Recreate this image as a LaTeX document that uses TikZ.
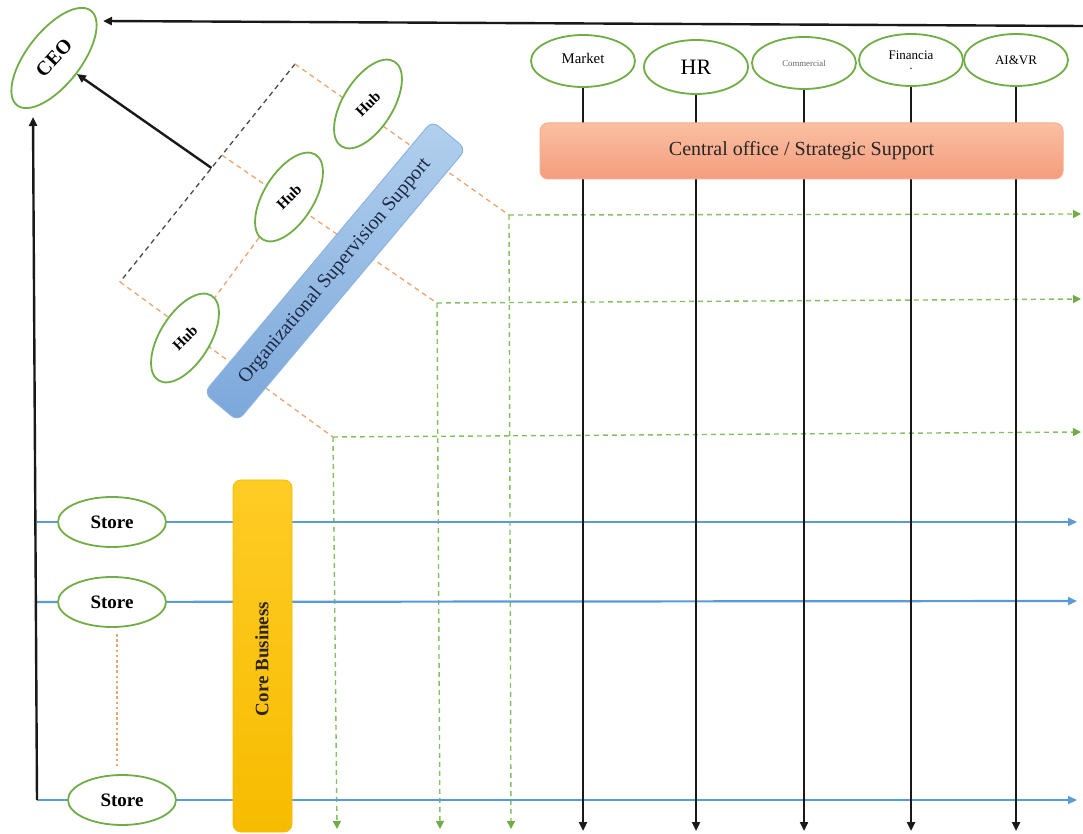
\documentclass[tikz,border=0pt]{standalone}
\usepackage{fontspec}
\setmainfont{Liberation Serif}
\usetikzlibrary{shapes.geometric,arrows.meta,calc}

\definecolor{nodegreen}{HTML}{70AD47}
\definecolor{lineblue}{HTML}{5B9BD5}
\definecolor{dashgreen}{HTML}{86BE62}
\definecolor{dashorange}{HTML}{E9A572}
\definecolor{dashgray}{HTML}{4A4A4A}
\definecolor{ossA}{HTML}{B2D0EE}
\definecolor{ossB}{HTML}{7BA7DA}
\definecolor{ossEdge}{HTML}{8DB3DE}
\definecolor{ossText}{HTML}{1E2A45}
\definecolor{coA}{HTML}{FBBFA2}
\definecolor{coB}{HTML}{F49D7D}
\definecolor{coEdge}{HTML}{F5AE90}
\definecolor{cbA}{HTML}{FFCC26}
\definecolor{cbB}{HTML}{F7BC00}
\definecolor{cbText}{HTML}{2E2510}

\pgfdeclarelayer{bg}
\pgfsetlayers{bg,main}

\begin{document}
\begin{tikzpicture}[x=0.5pt,y=-0.5pt,
  oval/.style={ellipse, draw=nodegreen, line width=0.9pt, fill=white, inner sep=0pt},
  funcoval/.style={oval, minimum width=52pt, minimum height=26pt},
  huboval/.style={oval, minimum width=50pt, minimum height=25pt, rotate=58},
  storeoval/.style={oval, minimum width=54pt, minimum height=25pt,
    font=\bfseries\fontsize{9.5}{10}\selectfont},
  hubtext/.style={rotate=45, font=\bfseries\fontsize{7.5}{8}\selectfont},
  blk/.style={line width=1.2pt, draw=black!90, -{Triangle[length=4.5pt,width=4pt]}},
  blueline/.style={line width=1.1pt, draw=lineblue, -{Triangle[length=4.5pt,width=4pt]}},
  gdash/.style={line width=0.7pt, draw=dashgreen, dash pattern=on 2.5pt off 2pt,
    -{Triangle[length=4pt,width=4pt,color=nodegreen]}},
  odash/.style={line width=0.65pt, draw=dashorange, dash pattern=on 2.5pt off 2pt},
  bdash/.style={line width=0.65pt, draw=dashgray, dash pattern=on 2.5pt off 2pt},
  sdot/.style={line width=0.6pt, draw=dashorange, dash pattern=on 1.3pt off 1.3pt}
]
\useasboundingbox (0,0) rectangle (1083,834);

% ---------- top management ----------
\node[oval, minimum width=60pt, minimum height=27pt, rotate=52] (ceo) at (54,58) {};
\node[rotate=47, font=\bfseries\fontsize{10}{10}\selectfont] (ceot) at (ceo) {CEO};

% hubs
\node[huboval] (h1) at (368,104) {};
\node[huboval] (h2) at (289,197) {};
\node[huboval] (h3) at (185,338) {};
\node[hubtext] (h1t) at (h1) {Hub};
\node[hubtext] (h2t) at (h2) {Hub};
\node[hubtext] (h3t) at (h3) {Hub};

% supervision bar
\node[rotate=50, rounded corners=4pt, minimum width=177.5pt, minimum height=22pt,
  top color=ossA, bottom color=ossB, draw=ossEdge, line width=0.5pt,
  text=ossText, font=\fontsize{10}{10}\selectfont] (oss) at (335,271)
  {Organizational Supervision Support};

% ---------- functional departments ----------
\node[funcoval, font=\fontsize{7.4}{8}\selectfont] (mk) at (583,61) {\raisebox{3pt}{Market}};
\node[funcoval, minimum height=27pt, font=\fontsize{11}{11}\selectfont] (hr) at (696,67) {HR};
\node[funcoval, text=black!60, font=\fontsize{4.4}{5}\selectfont] (cm) at (804,63) {Commercial};
\node[funcoval, align=center, font=\fontsize{6.5}{6}\selectfont] (fi) at (911,60)
  {Financia\\[-1pt]{\fontsize{6}{6}\selectfont .}};
\node[funcoval, font=\fontsize{6.5}{7}\selectfont] (ai) at (1016,60) {AI\&VR};

\node[rounded corners=4pt, minimum width=261.5pt, minimum height=28pt,
  top color=coA, bottom color=coB, draw=coEdge, line width=0.5pt,
  text=black!85, font=\fontsize{10}{10}\selectfont] (co) at (801.5,151)
  {Central office / Strategic Support};

% ---------- stores and core business ----------
\node[storeoval] (s1) at (112,522) {Store};
\node[storeoval] (s2) at (112,602) {Store};
\node[storeoval] (s3) at (122,800) {Store};

\node[rounded corners=4pt, minimum width=29.5pt, minimum height=176pt,
  top color=cbA, bottom color=cbB, draw=cbB, line width=0.4pt] (cb) at (262.5,656) {};
\node[rotate=90, text=cbText, font=\bfseries\fontsize{9.5}{10}\selectfont] (cbt) at (262,659) {Core Business};

% ---------- helper coordinates ----------
\coordinate (topR) at (1083,26);
\coordinate (ceoIn) at (103,21);
\coordinate (vb) at (37,800);
\coordinate (ceoLow) at (33,117);
\coordinate (bt) at (295,64);
\coordinate (bb) at (120,282);
\coordinate (bm) at ($(bt)!0.418!(bb)$);
\coordinate (brk) at ($(bt)!0.477!(bb)$);
\coordinate (c1) at (509,215);
\coordinate (c2) at (437,303);
\coordinate (c3) at (333,437);
\coordinate (e1) at (1081,214);
\coordinate (e2) at (1081,299);
\coordinate (e3) at (1081,432);
\coordinate (d1) at (511,829);
\coordinate (d2) at (440,829);
\coordinate (d3) at (337,829);
\coordinate (bot) at (0,831);
\coordinate (l1) at (37,522);
\coordinate (l2) at (37,602);
\coordinate (l3) at (37,800);
\coordinate (r1) at (1077,522);
\coordinate (r2) at (1077,601);
\coordinate (r3) at (1077,800);

\begin{pgfonlayer}{bg}
  % hub bracket and links
  \draw[bdash] (bt) -- (bb);
  \draw[odash] (bt) -- (c1);
  \draw[odash] (bm) -- (c2);
  \draw[odash] (bb) -- (c3);
  \draw[odash] (h2) -- (h3);
  % supervision flows
  \draw[gdash] (c1) -- (e1);
  \draw[gdash] (c2) -- (e2);
  \draw[gdash] (c3) -- (e3);
  \draw[gdash] (c1) -- (d1);
  \draw[gdash] (c2) -- (d2);
  \draw[gdash] (c3) -- (d3);
  % store flows
  \draw[blueline] (l1) -- (r1);
  \draw[blueline] (l2) -- (r2);
  \draw[blueline] (l3) -- (r3);
  \draw[sdot] ([xshift=2.5pt,yshift=-3pt]s2.south) -- ([xshift=-2.5pt,yshift=4pt]s3.north);
  % department flows
  \foreach \n in {mk,hr,cm,fi,ai}
    \draw[blk] (\n) -- (\n |- bot);
  % reporting lines
  \draw[blk] (topR) -- (ceoIn);
  \draw[blk] (brk) -- (ceo);
  \draw[blk] (vb) -- (ceoLow);
\end{pgfonlayer}
\end{tikzpicture}
\end{document}
